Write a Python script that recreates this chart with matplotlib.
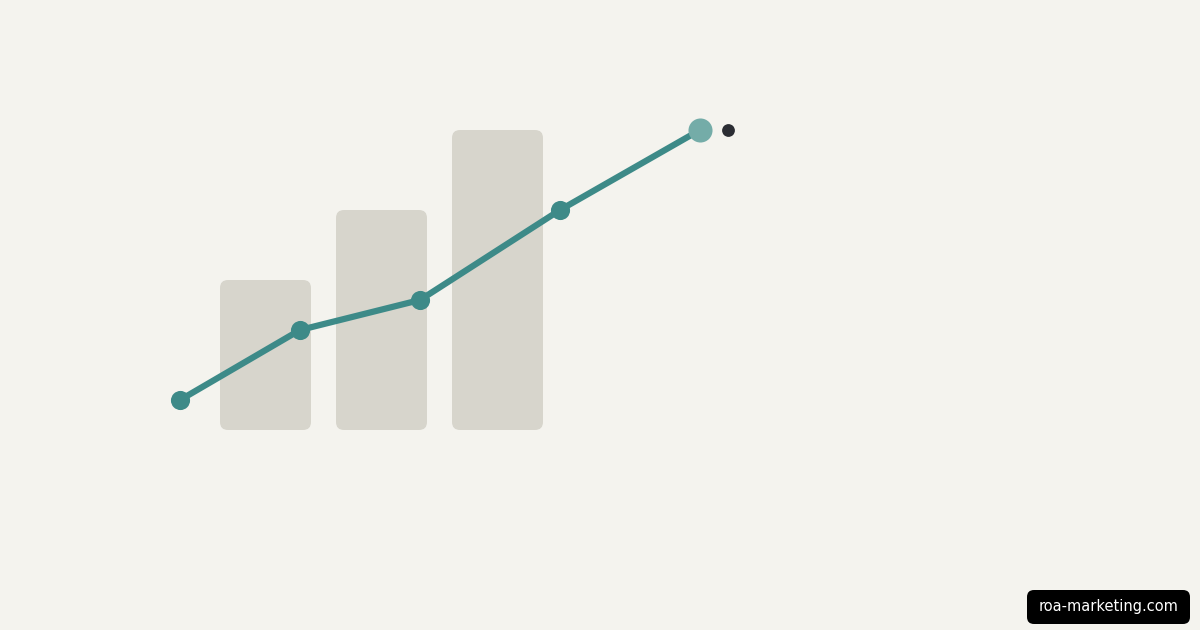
import matplotlib
matplotlib.use("Agg")
import matplotlib.pyplot as plt
from matplotlib.patches import FancyBboxPatch

# Data (heights above the baseline)
bar_x = [265.5, 381.5, 497.5]
bar_h = [150, 220, 300]
line_x = [180, 300, 420, 560, 700]
line_y = [30, 100, 130, 220, 300]
dot_x, dot_y = 728, 300
label = "roa-marketing.com"

bg = "#f4f3ee"
bar_color = "#d7d5cc"
teal = "#3d8a88"
teal_light = "#74aca8"

fig = plt.figure(figsize=(12, 6.3), dpi=100)
fig.patch.set_facecolor(bg)
ax = fig.add_axes([0, 0, 1, 1])
ax.set_facecolor(bg)
ax.set_xlim(0, 1200)
ax.set_ylim(-200, 430)
ax.axis("off")

bar_w = 91
for x, h in zip(bar_x, bar_h):
    ax.add_patch(FancyBboxPatch((x - bar_w / 2, 0), bar_w, h,
                                boxstyle="round,pad=0,rounding_size=8",
                                fc=bar_color, ec="none", zorder=1))

ax.plot(line_x, line_y, color=teal, lw=4.5, solid_capstyle="round", zorder=2)
ax.scatter(line_x[:-1], line_y[:-1], s=190, color=teal, zorder=3, linewidths=0)
ax.scatter(line_x[-1:], line_y[-1:], s=300, color=teal_light, zorder=4, linewidths=0)
ax.scatter([dot_x], [dot_y], s=85, color="#2b2d33", zorder=4, linewidths=0)

# watermark label
ax.add_patch(FancyBboxPatch((1027, -194), 163, 34,
                            boxstyle="round,pad=0,rounding_size=7",
                            fc="black", ec="none", zorder=5))
ax.text(1108.5, -177, label, color="white", fontsize=10.5,
        ha="center", va="center", zorder=6)

fig.savefig("out.png", dpi=100, facecolor=bg)
